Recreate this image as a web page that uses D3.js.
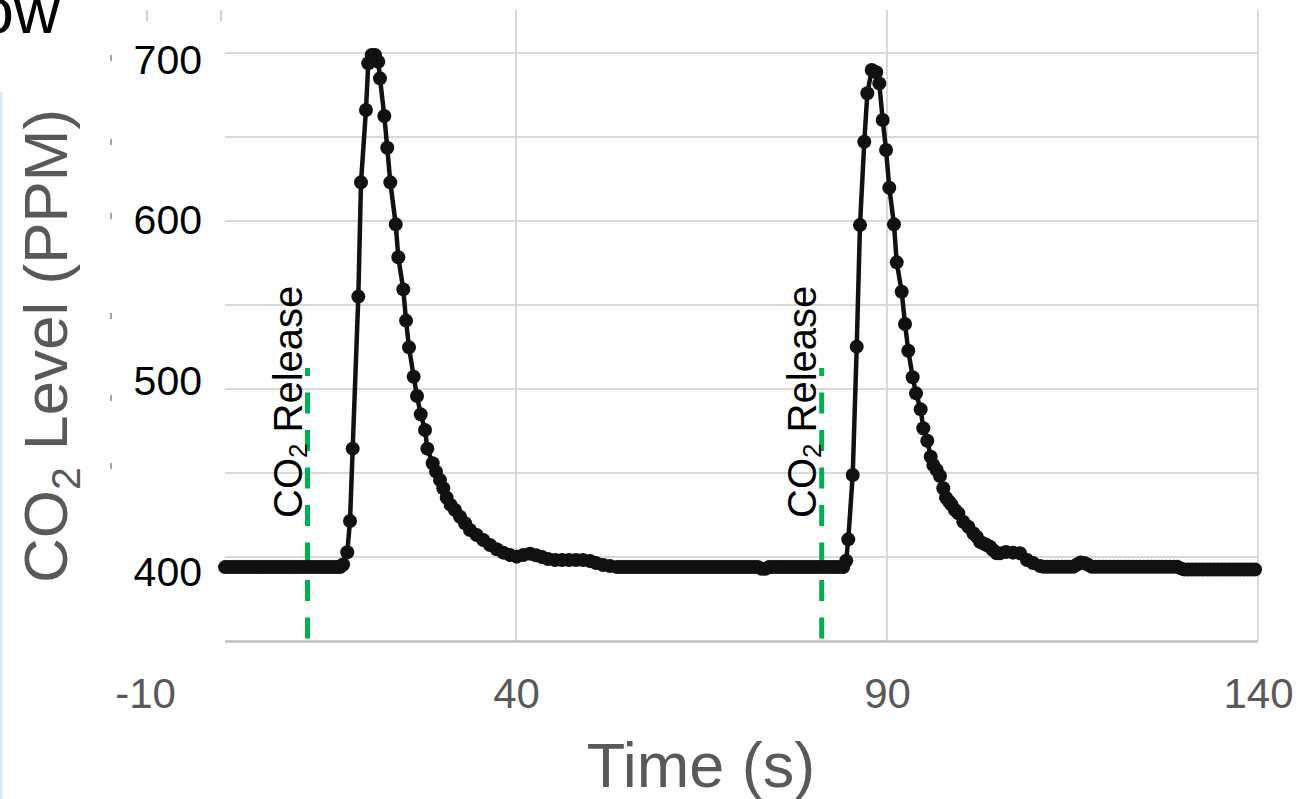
<!DOCTYPE html>
<html><head><meta charset="utf-8">
<script src="https://cdn.jsdelivr.net/npm/d3@7"></script>
<style>html,body{margin:0;padding:0;background:#fff;overflow:hidden}</style>
</head><body><svg id="c" width="1303" height="799"></svg>
<script>
// ---------- data ----------
const timeS = [
  0.8,1.3,1.8,2.3,2.8,3.3,3.8,4.3,4.8,5.3,5.8,6.3,6.8,7.3,7.8,8.3,8.8,9.3,9.8,10.3,
  10.8,11.3,11.8,12.3,12.8,13.3,13.8,14.3,14.8,15.3,15.8,16.3,16.7,
  17.26,17.63,17.99,18.75,19.11,19.78,20.09,20.55,21.0,21.44,21.67,22.25,22.65,23.06,23.79,24.14,
  24.81,25.18,25.58,26.21,26.66,27.16,27.74,28.05,28.77,29.22,29.76,30.2,30.66,31.2,31.78,32.45,
  33.13,33.8,34.7,35.59,36.5,37.4,38.29,39.19,40.09,40.98,41.89,42.7,43.5,44.31,45.26,46.2,
  47.14,48.09,49.03,49.97,50.78,51.73,52.67,53.61,
  54.1,54.6,55.1,55.6,56.1,56.6,57.1,57.6,58.1,58.6,59.1,59.6,60.1,60.6,61.1,61.6,62.1,62.6,63.1,63.6,
  64.1,64.6,65.1,65.6,66.1,66.6,67.1,67.6,68.1,68.6,69.1,69.6,70.1,70.6,71.1,71.6,72.1,72.6,73.1,73.6,
  74.1,74.6,75.1,75.6,76.1,76.6,77.1,77.6,78.1,78.6,79.1,79.6,80.1,80.6,81.1,81.6,82.1,82.6,83.1,83.6,84.1,
  84.5,84.78,85.38,85.92,86.36,86.94,87.35,87.94,88.55,88.96,89.42,89.87,90.31,90.94,91.31,91.98,
  92.43,92.87,93.46,93.91,94.54,94.89,95.43,95.89,96.24,96.7,97.14,97.59,97.95,98.35,98.72,99.16,
  99.61,100.28,100.96,101.63,102.09,102.53,103.0,103.43,103.88,104.28,104.78,105.23,106.04,106.98,
  107.92,108.87,109.68,110.62,
  111.1,111.6,112.1,112.6,113.1,113.6,114.1,114.6,115.1,115.6,116.1,116.6,117.1,117.6,118.1,118.6,
  119.1,119.6,120.1,120.6,121.1,121.6,122.1,122.6,123.1,123.6,124.1,124.6,125.1,125.6,126.1,126.6,
  127.1,127.6,128.1,128.6,129.1,129.6,130.1,130.6,131.1,131.6,132.1,132.6,133.1,133.6,134.1,134.6,
  135.1,135.6,136.1,136.6,137.1,137.6,138.1,138.6,139.1,139.6
];
const co2Ppm = [
  394,394,394,394,394,394,394,394,394,394,394,394,394,394,394,394,394,394,394,394,
  394,394,394,394,394,394,394,394,394,394,394,394,395.5,
  402.8,421.4,464.5,555.0,623.0,666.1,693.9,698.8,698.8,694.8,684.9,662.5,643.6,623.0,598.0,578.4,
  559.3,540.7,524.8,507.3,495.8,484.9,475.6,464.5,455.8,450.8,445.8,440.9,435.3,431.0,428.0,424.0,
  420.1,416.1,413.1,410.1,407.1,404.6,402.6,401.2,400.2,401.2,402.0,401.0,400.0,398.8,398.2,398.2,
  398.2,398.2,398.2,397.6,396.4,395.2,394.6,394.0,
  394,394,394,394,394,394,394,394,394,394,394,394,394,394,394,394,394,394,394,394,
  394,394,394,394,394,394,394,394,394,394,394,394,394,394,394,394,394,394,393,393,
  394,394,394,394,394,394,394,394,394,394,394,394,394,394,394,394,394,394,394,394,394,
  397.8,410.5,448.8,525.2,597.6,647.2,676.0,689.9,688.5,681.9,660.1,642.3,619.8,598.0,575.4,557.9,
  538.7,522.8,507.0,497.4,487.9,476.6,469.2,459.7,454.8,451.8,448.2,440.9,435.3,433.0,431.0,428.0,
  426.0,421.0,418.0,414.1,412.1,409.1,408.0,407.1,406.1,404.2,402.2,402.2,403.0,402.6,
  402.2,398.2,396.4,394.6,
  394.2,394.2,394.2,394.2,394.2,394.2,394.2,394.2,394.2,395.5,396.8,396.4,395.4,394.2,394.2,394.2,
  394.2,394.2,394.2,394.2,394.2,394.2,394.2,394.2,394.2,394.2,394.2,394.2,394.2,394.2,394.2,394.2,
  394.2,394.2,394.2,394.2,394.2,393.2,392.6,392.6,392.6,392.6,392.6,392.6,392.6,392.6,392.6,392.6,
  392.6,392.6,392.6,392.6,392.6,392.6,392.6,392.6,392.6,392.6
];
const xTicks = [-10, 40, 90, 140];
const yGridValues = [400, 450, 500, 550, 600, 650, 700];
const yTickLabels = [700, 600, 500, 400];
const releaseTimes = [11.9, 81.2];
const releaseRange = [351.5, 512.5];

// ---------- layout / styles ----------
const FONT = "'Liberation Sans', Arial, Helvetica, sans-serif";
const yLabelNudge = {700: 6, 600: -2, 500: -9, 400: 14};
const svg = d3.select("#c");
const x = d3.scaleLinear().domain([-10, 140]).range([145, 1258]);
const y = d3.scaleLinear().domain([350, 700]).range([641, 53]);
const plotLeft = 225, plotTop = 10;

// light blue edge line and cut-off title
svg.append("line").attr("x1",1).attr("x2",1).attr("y1",92).attr("y2",799)
  .attr("stroke","#d9eaf8").attr("stroke-width",2.5);
svg.append("text").attr("x",60).attr("y",33).attr("text-anchor","end")
  .attr("font-family",FONT).attr("font-size",64).attr("fill","#000").text("ow");

// horizontal gridlines
svg.append("g").selectAll("line").data(yGridValues).join("line")
  .attr("x1",plotLeft).attr("x2",x(140)).attr("y1",d=>y(d)).attr("y2",d=>y(d))
  .attr("stroke","#d9d9d9").attr("stroke-width",2);
// vertical gridlines
svg.append("g").selectAll("line").data(xTicks.filter(d=>d>-10)).join("line")
  .attr("x1",d=>x(d)).attr("x2",d=>x(d)).attr("y1",plotTop).attr("y2",y(350))
  .attr("stroke","#d9d9d9").attr("stroke-width",2);
// stubs of gridlines visible above the label area
svg.append("g").selectAll("line").data([x(-10)+2, plotLeft-4]).join("line")
  .attr("x1",d=>d).attr("x2",d=>d).attr("y1",plotTop).attr("y2",21)
  .attr("stroke","#d4d4d4").attr("stroke-width",2.5);
// faint remnant marks left of labels
svg.append("g").selectAll("rect").data([58,142,216,316,398,466]).join("rect")
  .attr("x",110).attr("y",d=>d-3).attr("width",2).attr("height",6)
  .attr("fill","#666").attr("opacity",0.6);

// bottom axis line
svg.append("line").attr("x1",plotLeft).attr("x2",x(140)).attr("y1",641.5).attr("y2",641.5)
  .attr("stroke","#bfbfbf").attr("stroke-width",2.5);

// x axis labels (hyphen-minus, as in the reference)
const xAxis = svg.append("g").attr("transform","translate(0,641)")
  .call(d3.axisBottom(x).tickValues(xTicks).tickSize(0).tickPadding(37).tickFormat(d => String(d)));
xAxis.select(".domain").remove();
xAxis.selectAll("text").attr("font-family",FONT).attr("font-size",42).attr("fill","#595959");

// y tick labels
svg.append("g").selectAll("text").data(yTickLabels).join("text")
  .attr("x",202).attr("y",d=>y(d)+yLabelNudge[d]).attr("dy","0.36em")
  .attr("text-anchor","end").attr("font-family",FONT).attr("font-size",41).attr("fill","#000")
  .text(d=>d);

// axis titles
const yt = svg.append("text").attr("transform","translate(67,583) rotate(-90)")
  .attr("font-family",FONT).attr("font-size",62).attr("fill","#595959");
yt.append("tspan").text("CO");
yt.append("tspan").attr("font-size",41).attr("dy",13).text("2");
yt.append("tspan").attr("dy",-13).text(" Level (PPM)");

svg.append("text").attr("x",701).attr("y",787).attr("text-anchor","middle")
  .attr("font-family",FONT).attr("font-size",63).attr("fill","#595959").text("Time (s)");

// CO2 release markers
releaseTimes.forEach(t => {
  svg.append("line").attr("x1",x(t)).attr("x2",x(t))
    .attr("y1",y(releaseRange[0])).attr("y2",y(releaseRange[1]))
    .attr("stroke","#00b050").attr("stroke-width",5).attr("stroke-dasharray","21,16.5");
  const tx = svg.append("text").attr("transform",`translate(${x(t)-5.5},518) rotate(-90)`)
    .attr("font-family",FONT).attr("font-size",40).attr("fill","#000");
  tx.append("tspan").text("CO");
  tx.append("tspan").attr("font-size",26).attr("dy",5).text("2");
  tx.append("tspan").attr("dy",-5).text(" Release");
});

// data line + markers
const pts = timeS.map((t,i)=>[t, co2Ppm[i]]);
svg.append("path").datum(pts)
  .attr("d", d3.line().x(d=>x(d[0])).y(d=>y(d[1])))
  .attr("fill","none").attr("stroke","#111").attr("stroke-width",4.5).attr("stroke-linejoin","round");
svg.append("g").selectAll("circle").data(pts).join("circle")
  .attr("cx",d=>x(d[0])).attr("cy",d=>y(d[1])).attr("r",7).attr("fill","#111");
</script>
</body></html>
